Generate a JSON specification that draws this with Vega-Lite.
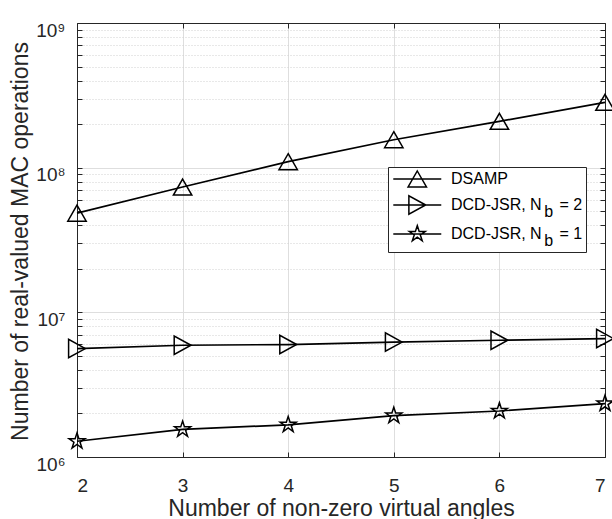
{
  "$schema": "https://vega.github.io/schema/vega-lite/v6.json",
  "width": 528,
  "height": 434,
  "autosize": {"type": "none"},
  "padding": {"left": 77, "top": 23, "right": 7, "bottom": 62},
  "background": "white",
  "config": {
    "view": {"stroke": null},
    "font": "Liberation Sans",
    "style": {"guide-label": {"lineHeight": 7}},
    "axis": {
      "labelFont": "Liberation Sans",
      "titleFont": "Liberation Sans",
      "labelColor": "#262626",
      "titleColor": "#262626",
      "domainColor": "#262626",
      "tickColor": "#262626",
      "titleFontWeight": "normal"
    }
  },
  "data": {
    "values": [
      {"k": 2, "ops": 48500000, "series": "DSAMP"},
      {"k": 3, "ops": 73500000, "series": "DSAMP"},
      {"k": 4, "ops": 110000000, "series": "DSAMP"},
      {"k": 5, "ops": 156000000, "series": "DSAMP"},
      {"k": 6, "ops": 209000000, "series": "DSAMP"},
      {"k": 7, "ops": 283000000, "series": "DSAMP"},
      {"k": 2, "ops": 5620000, "series": "Nb2"},
      {"k": 3, "ops": 5920000, "series": "Nb2"},
      {"k": 4, "ops": 5990000, "series": "Nb2"},
      {"k": 5, "ops": 6230000, "series": "Nb2"},
      {"k": 6, "ops": 6410000, "series": "Nb2"},
      {"k": 7, "ops": 6590000, "series": "Nb2"},
      {"k": 2, "ops": 1285000, "series": "Nb1"},
      {"k": 3, "ops": 1550000, "series": "Nb1"},
      {"k": 4, "ops": 1670000, "series": "Nb1"},
      {"k": 5, "ops": 1930000, "series": "Nb1"},
      {"k": 6, "ops": 2080000, "series": "Nb1"},
      {"k": 7, "ops": 2340000, "series": "Nb1"}
    ]
  },
  "resolve": {"axis": {"x": "independent", "y": "independent"}, "scale": {"shape": "independent"}},
  "layer": [
    {
      "mark": {"type": "line", "color": "black", "strokeWidth": 1.7},
      "encoding": {
        "x": {
          "field": "k", "type": "quantitative",
          "scale": {"domain": [2, 7], "nice": false, "zero": false},
          "axis": {
            "orient": "bottom",
            "values": [2, 3, 4, 5, 6, 7],
            "format": "d",
            "title": "Number of non-zero virtual angles",
            "titleFontSize": 23,
            "labelFontSize": 19,
            "tickSize": -5,
            "labelPadding": 24,
            "titlePadding": 2,
            "grid": true,
            "gridColor": "#dedede",
            "gridWidth": 1
          }
        },
        "y": {
          "field": "ops", "type": "quantitative",
          "scale": {"type": "log", "domain": [1000000, 1000000000], "nice": false},
          "axis": {
            "orient": "left",
            "values": [1000000, 2000000, 3000000, 4000000, 5000000, 6000000, 7000000, 8000000, 9000000, 10000000, 20000000, 30000000, 40000000, 50000000, 60000000, 70000000, 80000000, 90000000, 100000000, 200000000, 300000000, 400000000, 500000000, 600000000, 700000000, 800000000, 900000000, 1000000000],
            "labelExpr": "datum.value == 1000000 ? '10⁶' : datum.value == 10000000 ? '10⁷' : datum.value == 100000000 ? '10⁸' : datum.value == 1000000000 ? '10⁹' : ''",
            "labelFontSize": 19,
            "labelOffset": 7,
            "labelPadding": 17,
            "tickSize": -5,
            "title": "Number of real-valued MAC operations",
            "titleFontSize": 23,
            "titlePadding": 3,
            "titleY": 218,
            "titleAlign": "center",
            "grid": true,
            "gridColor": {"condition": {"test": "datum.value == 1000000 || datum.value == 10000000 || datum.value == 100000000 || datum.value == 1000000000", "value": "#dedede"}, "value": "#d0d0d0"},
            "gridDash": {"condition": {"test": "datum.value == 1000000 || datum.value == 10000000 || datum.value == 100000000 || datum.value == 1000000000", "value": []}, "value": [1, 2]},
            "labelOverlap": false
          }
        },
        "detail": {"field": "series"}
      }
    },
    {
      "mark": {"type": "point", "filled": false, "color": "black", "strokeWidth": 1.5, "opacity": 1, "size": 256},
      "encoding": {
        "x": {
          "field": "k", "type": "quantitative",
          "axis": {"orient": "top", "labels": false, "title": null, "grid": false, "values": [2, 3, 4, 5, 6, 7], "tickSize": -5}
        },
        "y": {
          "field": "ops", "type": "quantitative",
          "axis": {
            "orient": "right", "labels": false, "title": null, "grid": false,
            "values": [1000000, 2000000, 3000000, 4000000, 5000000, 6000000, 7000000, 8000000, 9000000, 10000000, 20000000, 30000000, 40000000, 50000000, 60000000, 70000000, 80000000, 90000000, 100000000, 200000000, 300000000, 400000000, 500000000, 600000000, 700000000, 800000000, 900000000, 1000000000],
            "tickSize": -5
          }
        },
        "shape": {
          "field": "series", "type": "nominal",
          "scale": {
            "domain": ["DSAMP", "Nb2", "Nb1"],
            "range": [
              "M0,-1L1.15,1L-1.15,1Z",
              "M1.05,0L-1.05,-1.15L-1.05,1.15Z",
              "M0,-1.05L0.236,-0.325L1,-0.325L0.382,0.124L0.618,0.85L0,0.401L-0.618,0.85L-0.382,0.124L-1,-0.325L-0.236,-0.325Z"
            ]
          },
          "legend": null
        }
      }
    },
    {
      "transform": [{"filter": "datum.k > 100"}],
      "mark": {"type": "point", "filled": false, "color": "black", "strokeWidth": 1.5, "opacity": 1, "size": 256},
      "encoding": {
        "x": {"field": "k", "type": "quantitative", "axis": null},
        "y": {"field": "ops", "type": "quantitative", "axis": null},
        "shape": {
          "field": "series", "type": "nominal",
          "scale": {
            "domain": ["DSAMP", "Nb2", "Nb1"],
            "range": [
              "M-0.84,0L5.16,0M2.16,-1L3.31,1L1.01,1Z",
              "M-0.84,0L5.16,0M3.21,0L1.11,-1.15L1.11,1.15Z",
              "M-0.84,0L5.16,0M2.16,-1.05L2.396,-0.325L3.16,-0.325L2.542,0.124L2.778,0.85L2.16,0.401L1.542,0.85L1.778,0.124L1.16,-0.325L1.924,-0.325Z"
            ]
          },
          "legend": {
            "orient": "none",
            "legendX": 311,
            "legendY": 144,
            "title": null,
            "padding": 3,
            "strokeColor": "#262626",
            "fillColor": "white",
            "symbolSize": 256,
            "symbolStrokeWidth": 1.5,
            "symbolStrokeColor": "black",
            "symbolOpacity": 1,
            "labelFont": "Liberation Sans",
            "labelFontSize": 16,
            "labelColor": "black",
            "labelOffset": 42,
            "labelLimit": 300,
            "rowPadding": 2,
            "labelExpr": "datum.value == 'DSAMP' ? 'DSAMP' : datum.value == 'Nb2' ? ['DCD-JSR, N\u00a0\u00a0\u00a0\u00a0= 2', '\u200b\u00a0\u00a0\u00a0\u00a0\u00a0\u00a0\u00a0\u00a0\u00a0\u00a0\u00a0\u00a0\u00a0\u00a0\u00a0\u00a0\u00a0\u00a0\u00a0\u00a0\u00a0b'] : ['DCD-JSR, N\u00a0\u00a0\u00a0\u00a0= 1', '\u200b\u00a0\u00a0\u00a0\u00a0\u00a0\u00a0\u00a0\u00a0\u00a0\u00a0\u00a0\u00a0\u00a0\u00a0\u00a0\u00a0\u00a0\u00a0\u00a0\u00a0\u00a0b']"
          }
        }
      }
    }
  ]
}
